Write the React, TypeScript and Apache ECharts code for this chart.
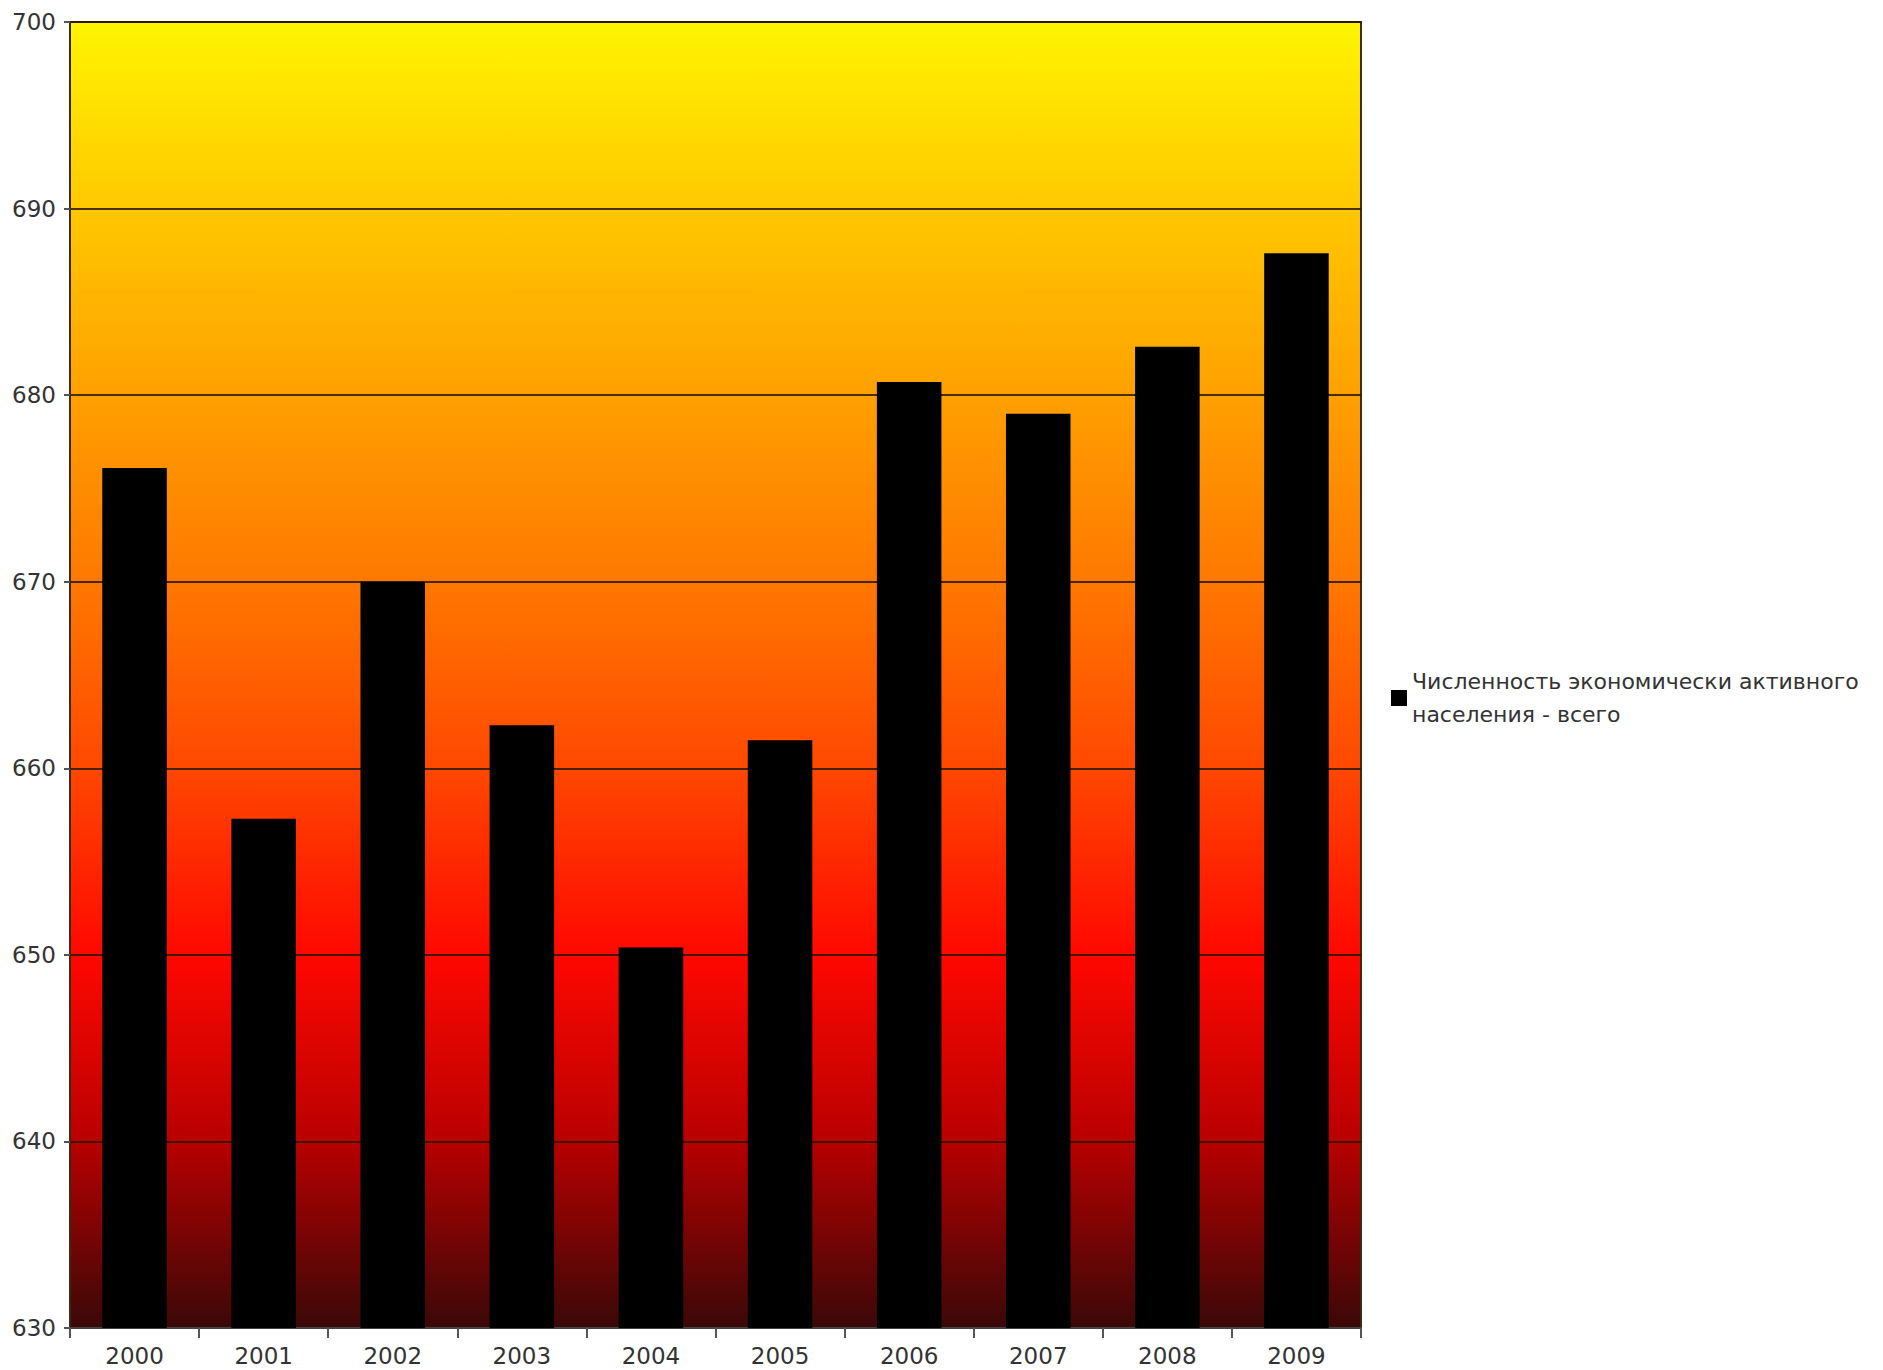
import React, { useEffect, useRef } from "react";
import * as echarts from "echarts";

const years = ["2000", "2001", "2002", "2003", "2004", "2005", "2006", "2007", "2008", "2009"];
const activePopulation = [676.1, 657.3, 670.0, 662.3, 650.4, 661.5, 680.7, 679.0, 682.6, 687.6];
const seriesName = "Численность экономически активного\nнаселения - всего";
const yMin = 630;
const yMax = 700;
const yStep = 10;

export default function App() {
  const ref = useRef<HTMLDivElement>(null);
  useEffect(() => {
    if (!ref.current) return;
    const chart = echarts.init(ref.current, null, { renderer: "svg" });
    chart.setOption({
      animation: false,
      backgroundColor: "#ffffff",
      textStyle: { fontFamily: "DejaVu Sans, Verdana, sans-serif" },
      grid: {
        left: 70,
        top: 22,
        right: 522,
        bottom: 42,
        show: true,
        borderColor: "#3a2a10",
        borderWidth: 2,
        backgroundColor: new echarts.graphic.LinearGradient(0, 0, 0, 1, [
          { offset: 0, color: "#FFF400" },
          { offset: 0.143, color: "#FFC800" },
          { offset: 0.286, color: "#FFA000" },
          { offset: 0.429, color: "#FF7800" },
          { offset: 0.571, color: "#FF4800" },
          { offset: 0.714, color: "#FF0800" },
          { offset: 0.857, color: "#B80000" },
          { offset: 1, color: "#3A0808" },
        ]),
      },
      legend: {
        orient: "vertical",
        left: 1386,
        top: 660,
        itemWidth: 16,
        itemHeight: 16,
        itemGap: 8,
        icon: "rect",
        data: [seriesName],
        textStyle: { fontSize: 22, lineHeight: 33, color: "#333", fontFamily: "DejaVu Sans" },
      },
      xAxis: {
        type: "category",
        data: years,
        axisLine: { show: true, lineStyle: { color: "#444", width: 2 } },
        axisTick: { show: true, length: 10, lineStyle: { color: "#555", width: 2 } },
        axisLabel: { fontSize: 23, color: "#333", margin: 16, fontFamily: "DejaVu Sans" },
      },
      yAxis: {
        type: "value",
        min: yMin,
        max: yMax,
        interval: yStep,
        axisLine: { show: true, lineStyle: { color: "#3a2a10", width: 2 } },
        axisTick: { show: true, length: 6, lineStyle: { color: "#555", width: 2 } },
        axisLabel: { fontSize: 23, color: "#333", margin: 14, fontFamily: "DejaVu Sans" },
        splitLine: { show: true, lineStyle: { color: "rgba(40,25,0,0.85)", width: 2 } },
      },
      series: [
        {
          name: seriesName,
          type: "bar",
          data: activePopulation,
          barCategoryGap: "50%",
          itemStyle: { color: "#000000" },
        },
      ],
    });
    return () => chart.dispose();
  }, []);
  return (
    <div
      ref={ref}
      style={{ position: "fixed", left: 0, top: 0, width: 1883, height: 1370 }}
    />
  );
}
